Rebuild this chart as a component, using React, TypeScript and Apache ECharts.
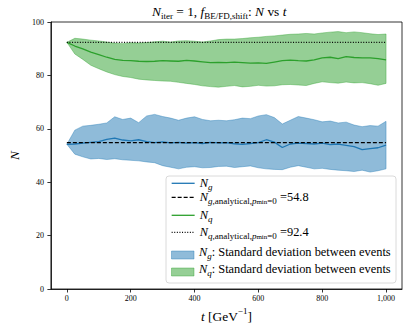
import React, { useEffect, useRef } from "react";
import * as echarts from "echarts";

const T = [0, 25, 50, 75, 100, 125, 150, 175, 200, 225, 250, 275, 300, 325, 350, 375, 400, 425, 450, 475, 500, 525, 550, 575, 600, 625, 650, 675, 700, 725, 750, 775, 800, 825, 850, 875, 900, 925, 950, 975, 1000];

const NG_MEAN = [54.2, 54.3, 54.6, 54.9, 55.2, 56.0, 56.5, 55.8, 55.5, 55.9, 55.2, 54.8, 55.1, 54.7, 54.9, 54.6, 54.8, 54.5, 54.9, 54.7, 54.8, 54.4, 54.2, 54.5, 54.8, 55.9, 55.0, 53.0, 54.3, 54.6, 54.5, 54.3, 54.6, 54.1, 54.3, 53.8, 53.3, 52.2, 52.6, 52.9, 53.9];
const NG_UPPER = [54.2, 59.5, 61.0, 61.3, 61.7, 62.2, 64.5, 63.5, 64.0, 62.3, 64.8, 65.4, 64.6, 64.0, 63.2, 64.0, 64.5, 63.5, 63.0, 63.2, 63.0, 63.4, 64.0, 63.8, 64.8, 65.3, 64.2, 61.8, 63.2, 64.6, 64.0, 63.4, 62.6, 62.9, 62.2, 62.5, 61.4, 60.8, 61.2, 61.0, 62.8];
const NG_LOWER = [54.2, 50.5, 49.5, 48.7, 48.9, 48.5, 48.8, 48.4, 48.2, 48.0, 47.6, 47.3, 46.2, 45.6, 45.0, 45.6, 45.8, 45.4, 45.5, 45.9, 46.0, 45.5, 45.8, 46.1, 45.4, 45.0, 44.8, 44.7, 45.6, 46.2, 45.6, 45.0, 45.2, 44.8, 44.5, 44.3, 44.0, 44.5, 43.8, 44.3, 45.0];

const NQ_MEAN = [92.4, 91.0, 89.9, 88.7, 87.8, 86.8, 86.0, 85.6, 85.5, 85.3, 85.2, 85.3, 85.5, 85.4, 85.3, 85.6, 85.4, 85.1, 84.8, 84.9, 84.8, 85.0, 84.8, 84.6, 84.7, 84.5, 85.0, 85.5, 85.7, 85.5, 85.4, 85.8, 86.6, 86.8, 86.3, 87.0, 86.7, 86.6, 86.6, 86.3, 85.8];
const NQ_UPPER = [92.4, 93.9, 93.6, 93.2, 92.9, 92.5, 92.0, 91.9, 92.2, 92.1, 92.3, 92.6, 92.8, 92.5, 92.9, 93.0, 92.8, 92.5, 92.9, 93.4, 93.6, 93.6, 93.8, 94.1, 94.3, 94.6, 94.8, 95.1, 95.4, 95.5, 95.7, 95.5, 95.9, 96.2, 96.4, 96.0, 96.3, 96.0, 95.6, 95.3, 95.5];
const NQ_LOWER = [92.4, 88.0, 86.0, 83.8, 82.5, 81.3, 80.3, 79.6, 79.2, 78.6, 78.3, 78.1, 77.9, 77.8, 77.4, 77.0, 76.6, 76.1, 75.8, 75.6, 75.9, 76.2, 75.7, 75.9, 76.3, 76.0, 76.1, 76.5, 76.6, 76.4, 76.2, 77.0, 77.6, 77.3, 77.1, 77.5, 77.2, 77.3, 76.9, 76.3, 77.0];

const NG_ANALYTICAL = 54.8;
const NQ_ANALYTICAL = 92.4;
const X_TICKS = [0, 200, 400, 600, 800, 1000];
const Y_TICKS = [0, 20, 40, 60, 80, 100];

const SERIF = "'Liberation Serif', 'DejaVu Serif', serif";
const BLUE = "#1f77b4";
const GREEN = "#2ca02c";
const BLUE_FILL = "rgba(31,119,180,0.5)";
const GREEN_FILL = "rgba(44,160,44,0.5)";

const richBase = (size: number) => {
  const sub = Math.round(size * 0.7);
  const subsub = Math.round(size * 0.55);
  const base = { fontFamily: SERIF, fontWeight: "normal", color: "#000" };
  return {
    r: { ...base, fontSize: size, lineHeight: size + 5 },
    i: { ...base, fontSize: size, fontStyle: "italic", lineHeight: size + 5 },
    s: { ...base, fontSize: sub, lineHeight: sub, verticalAlign: "bottom" },
    si: { ...base, fontSize: sub, fontStyle: "italic", lineHeight: sub, verticalAlign: "bottom" },
    ss: { ...base, fontSize: subsub, lineHeight: subsub - 2, verticalAlign: "bottom" },
    sup: { ...base, fontSize: sub, lineHeight: sub, verticalAlign: "top" },
  };
};

const LEGEND_TEXT: Record<string, string> = {
  Ng: "{i|N}{si|g}",
  NgA: "{i|N}{si|g}{s|,analytical,}{si|p}{ss|min}{s|=0}{r| =" + NG_ANALYTICAL + "}",
  Nq: "{i|N}{si|q}",
  NqA: "{i|N}{si|q}{s|,analytical,}{si|p}{ss|min}{s|=0}{r| =" + NQ_ANALYTICAL + "}",
  NgStd: "{i|N}{si|g}{r|: Standard deviation between events}",
  NqStd: "{i|N}{si|q}{r|: Standard deviation between events}",
};

const bandSeries = (name: string, lo: number[], hi: number[], fill: string) => ({
  type: "custom",
  name,
  data: T.map((t, i) => [t, lo[i], hi[i]]),
  encode: { x: 0, y: [1, 2] },
  clip: true,
  itemStyle: { color: fill },
  renderItem: (params: any, api: any) => {
    if (params.dataIndex !== 0) return null;
    const upper = T.map((t, i) => api.coord([t, hi[i]]));
    const lower = T.map((t, i) => api.coord([t, lo[i]])).reverse();
    return {
      type: "polygon",
      shape: { points: upper.concat(lower) },
      style: { fill, stroke: fill, lineWidth: 0.8 },
    };
  },
});

const lineSeries = (name: string, xs: number[], ys: number[], color: string, width: number, type: any) => ({
  type: "line",
  name,
  data: xs.map((x, i) => [x, ys[i]]),
  symbol: "none",
  showSymbol: false,
  lineStyle: { color, width, type },
  itemStyle: { color },
});

export default function App() {
  const ref = useRef<HTMLDivElement>(null);
  useEffect(() => {
    document.body.style.margin = "0";
    const chart = echarts.init(ref.current!, null, { renderer: "svg" });

    const hiddenSymbol = { itemStyle: { opacity: 0, color: "rgba(0,0,0,0)", borderColor: "rgba(0,0,0,0)", borderWidth: 0 } };
    const legendRows: { name: string; center: number; icon?: string; itemHeight: number; style: any }[] = [
      { name: "Ng", center: 186, itemHeight: 12, style: { ...hiddenSymbol, lineStyle: { color: BLUE, width: 1.3, type: "solid", opacity: 1 } } },
      { name: "NgA", center: 200, itemHeight: 12, style: { ...hiddenSymbol, lineStyle: { color: "#000", width: 1.3, type: [4, 2], opacity: 1 } } },
      { name: "Nq", center: 218, itemHeight: 12, style: { ...hiddenSymbol, lineStyle: { color: GREEN, width: 1.3, type: "solid", opacity: 1 } } },
      { name: "NqA", center: 235, itemHeight: 12, style: { ...hiddenSymbol, lineStyle: { color: "#000", width: 1.3, type: [1, 1.6], opacity: 1 } } },
      { name: "NgStd", center: 255, icon: "none", itemHeight: 8, style: hiddenSymbol },
      { name: "NqStd", center: 272, icon: "none", itemHeight: 8, style: hiddenSymbol },
    ];
    const legendRich = richBase(12.4);

    const legends = legendRows.map((row) => ({
      show: true,
      orient: "vertical",
      left: 171,
      top: row.center - 8.7,
      padding: 0,
      itemWidth: 23,
      itemHeight: row.itemHeight,
      selectedMode: false,
      data: [Object.assign({ name: row.name }, row.icon ? { icon: row.icon } : {}, row.style)],
      formatter: (name: string) => LEGEND_TEXT[name],
      textStyle: { rich: legendRich, fontFamily: SERIF, fontSize: 12 },
    }));

    const option: any = {
      animation: false,
      backgroundColor: "#fff",
      title: {
        text: "{i|N}{s|iter}{r| = 1, }{i|f}{s|BE/FD,shift}{r|: }{i|N}{r| vs }{i|t}",
        left: 152,
        top: 2,
        padding: 0,
        textStyle: { fontWeight: "normal", rich: richBase(13.4) },
      },
      grid: {
        left: 41,
        right: 9,
        top: 22,
        bottom: 39,
        show: true,
        borderColor: "#000",
        borderWidth: 0.8,
        containLabel: false,
      },
      legend: legends,
      graphic: [
        {
          type: "rect",
          z: 1,
          shape: { x: 166, y: 176, width: 230, height: 107, r: 3 },
          style: { fill: "rgba(255,255,255,0.8)", stroke: "#d0d0d0", lineWidth: 0.8 },
        },
        {
          type: "rect",
          z: 5,
          shape: { x: 171.5, y: 251, width: 22.5, height: 8 },
          style: { fill: BLUE_FILL, stroke: BLUE_FILL, lineWidth: 0.8 },
        },
        {
          type: "rect",
          z: 5,
          shape: { x: 171.5, y: 268, width: 22.5, height: 8 },
          style: { fill: GREEN_FILL, stroke: GREEN_FILL, lineWidth: 0.8 },
        },
      ],
      xAxis: {
        type: "value",
        min: -50,
        max: 1050,
        name: "{i|t} {r|[GeV}{sup|−1}{r|]}",
        nameLocation: "middle",
        nameGap: 10,
        nameTextStyle: { rich: richBase(13.4) },
        axisLine: { show: true, onZero: false, lineStyle: { color: "#000", width: 0.8 } },
        axisTick: { show: true, inside: false, length: 3.5, customValues: X_TICKS, lineStyle: { color: "#000", width: 0.8 } },
        axisLabel: { customValues: X_TICKS, margin: 5, fontSize: 8, fontFamily: SERIF, color: "#000" },
        splitLine: { show: false },
      },
      yAxis: {
        type: "value",
        min: 0,
        max: 100,
        interval: 20,
        name: "{i|N}",
        nameLocation: "middle",
        nameGap: 21,
        nameTextStyle: { rich: richBase(13.4) },
        axisLine: { show: true, onZero: false, lineStyle: { color: "#000", width: 0.8 } },
        axisTick: { show: true, inside: false, length: 3.5, lineStyle: { color: "#000", width: 0.8 } },
        axisLabel: { margin: 7, fontSize: 8, fontFamily: SERIF, color: "#000", customValues: Y_TICKS },
        splitLine: { show: false },
      },
      series: [
        bandSeries("NgStd", NG_LOWER, NG_UPPER, BLUE_FILL),
        bandSeries("NqStd", NQ_LOWER, NQ_UPPER, GREEN_FILL),
        lineSeries("Ng", T, NG_MEAN, BLUE, 1.3, "solid"),
        lineSeries("NgA", [T[0], T[T.length - 1]], [NG_ANALYTICAL, NG_ANALYTICAL], "#000", 1.2, [4, 2]),
        lineSeries("Nq", T, NQ_MEAN, GREEN, 1.3, "solid"),
        lineSeries("NqA", [T[0], T[T.length - 1]], [NQ_ANALYTICAL, NQ_ANALYTICAL], "#000", 1.2, [1, 1.6]),
      ],
    };
    chart.setOption(option);
    return () => chart.dispose();
  }, []);
  return <div ref={ref} style={{ width: 411, height: 328 }} />;
}
